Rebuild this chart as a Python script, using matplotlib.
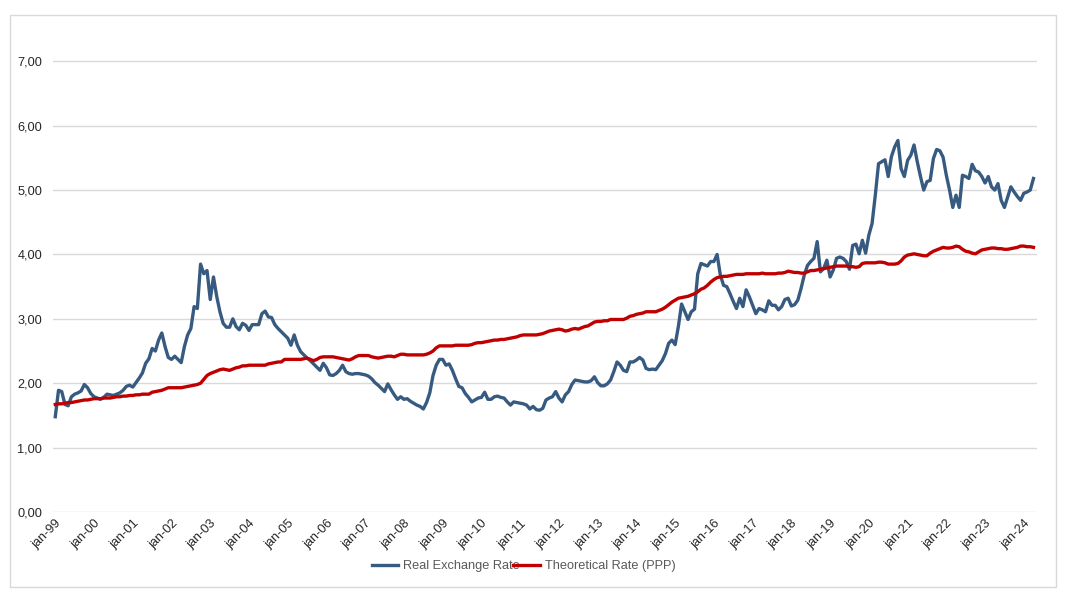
import numpy as np
import matplotlib.pyplot as plt
import matplotlib.transforms as mtransforms
from matplotlib.patches import Rectangle
from matplotlib.ticker import FuncFormatter

plt.rcParams['font.family'] = ['Liberation Sans', 'DejaVu Sans']

# monthly values, jan-99 .. apr-24
real_rate = [
    1.48, 1.89, 1.87, 1.67, 1.65, 1.79, 1.83, 1.85, 1.88, 1.98, 1.93, 1.84,  # 1999
    1.79, 1.77, 1.75, 1.78, 1.83, 1.82, 1.81, 1.83, 1.85, 1.89, 1.95, 1.97,  # 2000
    1.94, 2.01, 2.08, 2.16, 2.31, 2.38, 2.54, 2.50, 2.67, 2.78, 2.57, 2.40,  # 2001
    2.37, 2.42, 2.37, 2.32, 2.57, 2.75, 2.85, 3.19, 3.16, 3.85, 3.70, 3.75,  # 2002
    3.30, 3.65, 3.35, 3.11, 2.93, 2.87, 2.87, 3.00, 2.88, 2.83, 2.93, 2.90,  # 2003
    2.82, 2.91, 2.91, 2.91, 3.08, 3.12, 3.03, 3.02, 2.91, 2.85, 2.80, 2.75,  # 2004
    2.70, 2.59, 2.75, 2.59, 2.49, 2.44, 2.39, 2.35, 2.30, 2.25, 2.20, 2.31,  # 2005
    2.24, 2.13, 2.12, 2.15, 2.20, 2.28, 2.18, 2.15, 2.14, 2.15, 2.15, 2.14,  # 2006
    2.13, 2.11, 2.07, 2.01, 1.97, 1.92, 1.87, 1.99, 1.90, 1.82, 1.75, 1.79,  # 2007
    1.75, 1.76, 1.72, 1.69, 1.66, 1.64, 1.60, 1.70, 1.85, 2.12, 2.28, 2.37,  # 2008
    2.37, 2.28, 2.30, 2.20, 2.07, 1.95, 1.93, 1.84, 1.78, 1.71, 1.74, 1.77,  # 2009
    1.78, 1.86, 1.75, 1.75, 1.79, 1.80, 1.78, 1.77, 1.71, 1.66, 1.71, 1.70,  # 2010
    1.69, 1.68, 1.66, 1.60, 1.64, 1.59, 1.58, 1.61, 1.74, 1.77, 1.79, 1.87,  # 2011
    1.77, 1.71, 1.82, 1.87, 1.98, 2.05, 2.04, 2.03, 2.02, 2.02, 2.04, 2.10,  # 2012
    2.01, 1.96, 1.96, 1.99, 2.05, 2.18, 2.33, 2.28, 2.20, 2.18, 2.33, 2.33,  # 2013
    2.36, 2.40, 2.36, 2.23, 2.21, 2.22, 2.21, 2.28, 2.35, 2.46, 2.62, 2.67,  # 2014
    2.60, 2.88, 3.23, 3.11, 2.99, 3.11, 3.15, 3.70, 3.86, 3.84, 3.82, 3.89,  # 2015
    3.89, 4.00, 3.68, 3.52, 3.50, 3.39, 3.27, 3.16, 3.32, 3.19, 3.45, 3.34,  # 2016
    3.21, 3.08, 3.16, 3.14, 3.11, 3.28, 3.21, 3.21, 3.14, 3.19, 3.30, 3.32,  # 2017
    3.20, 3.22, 3.29, 3.47, 3.68, 3.83, 3.89, 3.94, 4.20, 3.73, 3.78, 3.91,  # 2018
    3.65, 3.76, 3.94, 3.96, 3.94, 3.89, 3.77, 4.14, 4.16, 4.01, 4.22, 4.02,  # 2019
    4.30, 4.48, 4.92, 5.41, 5.44, 5.47, 5.21, 5.52, 5.67, 5.77, 5.33, 5.21,  # 2020
    5.46, 5.54, 5.70, 5.44, 5.21, 5.00, 5.13, 5.15, 5.49, 5.63, 5.61, 5.51,  # 2021
    5.23, 5.00, 4.73, 4.92, 4.73, 5.23, 5.21, 5.18, 5.40, 5.30, 5.28, 5.21,  # 2022
    5.11, 5.21, 5.05, 5.00, 5.10, 4.84, 4.73, 4.89, 5.05, 4.97, 4.90, 4.84,  # 2023
    4.95, 4.97, 5.00, 5.18,                                                  # 2024
]

ppp_rate = [
    1.67, 1.68, 1.68, 1.69, 1.70, 1.70, 1.71, 1.72, 1.73, 1.74, 1.74, 1.75,
    1.76, 1.76, 1.76, 1.77, 1.77, 1.77, 1.78, 1.79, 1.79, 1.80, 1.80, 1.81,
    1.81, 1.82, 1.82, 1.83, 1.83, 1.83, 1.86, 1.87, 1.88, 1.89, 1.91, 1.93,
    1.93, 1.93, 1.93, 1.93, 1.94, 1.95, 1.96, 1.97, 1.98, 2.00, 2.06, 2.12,
    2.15, 2.17, 2.19, 2.21, 2.22, 2.21, 2.20, 2.22, 2.24, 2.25, 2.27, 2.27,
    2.28, 2.28, 2.28, 2.28, 2.28, 2.28, 2.30, 2.31, 2.32, 2.33, 2.33, 2.37,
    2.37, 2.37, 2.37, 2.37, 2.37, 2.38, 2.39, 2.37, 2.35, 2.37, 2.40, 2.41,
    2.41, 2.41, 2.41, 2.40, 2.39, 2.38, 2.37, 2.36, 2.38, 2.41, 2.43, 2.43,
    2.43, 2.43, 2.41, 2.40, 2.39, 2.40, 2.41, 2.42, 2.42, 2.41, 2.43, 2.45,
    2.45, 2.44, 2.44, 2.44, 2.44, 2.44, 2.44, 2.45, 2.47, 2.50, 2.55, 2.58,
    2.58, 2.58, 2.58, 2.58, 2.59, 2.59, 2.59, 2.59, 2.59, 2.60, 2.62, 2.63,
    2.63, 2.64, 2.65, 2.66, 2.67, 2.67, 2.68, 2.68, 2.69, 2.70, 2.71, 2.72,
    2.74, 2.75, 2.75, 2.75, 2.75, 2.75, 2.76, 2.77, 2.79, 2.81, 2.82, 2.83,
    2.84, 2.83, 2.81, 2.82, 2.84, 2.85, 2.84, 2.86, 2.88, 2.89, 2.92, 2.95,
    2.96, 2.96, 2.97, 2.97, 2.99, 2.99, 2.99, 2.99, 2.99, 3.01, 3.04, 3.05,
    3.07, 3.08, 3.09, 3.11, 3.11, 3.11, 3.11, 3.13, 3.15, 3.18, 3.22, 3.26,
    3.29, 3.32, 3.33, 3.34, 3.35, 3.37, 3.39, 3.42, 3.46, 3.48, 3.52, 3.57,
    3.61, 3.64, 3.65, 3.66, 3.66, 3.67, 3.68, 3.69, 3.69, 3.69, 3.70, 3.70,
    3.70, 3.70, 3.70, 3.71, 3.70, 3.70, 3.70, 3.70, 3.71, 3.71, 3.72, 3.74,
    3.73, 3.72, 3.72, 3.71, 3.71, 3.73, 3.75, 3.75, 3.76, 3.77, 3.78, 3.79,
    3.80, 3.81, 3.82, 3.82, 3.82, 3.82, 3.81, 3.81, 3.80, 3.81, 3.86, 3.87,
    3.87, 3.87, 3.87, 3.88, 3.88, 3.87, 3.85, 3.85, 3.85, 3.86, 3.90, 3.96,
    3.99, 4.00, 4.01, 4.00, 3.99, 3.98, 3.98, 4.02, 4.05, 4.07, 4.09, 4.11,
    4.10, 4.10, 4.11, 4.13, 4.12, 4.08, 4.05, 4.04, 4.02, 4.01, 4.04, 4.07,
    4.08, 4.09, 4.10, 4.10, 4.09, 4.09, 4.08, 4.08, 4.09, 4.10, 4.11, 4.13,
    4.13, 4.12, 4.12, 4.11,
]

year_labels = ['jan-%02d' % (y % 100) for y in range(1999, 2025)]
series_names = ['Real Exchange Rate', 'Theoretical Rate (PPP)']

BLUE = '#375A80'
RED = '#C00000'
GRID = '#D9D9D9'

fig = plt.figure(figsize=(10.69, 6.02), dpi=100)
ax = fig.add_axes([0.0499, 0.1495, 0.9199, 0.784])

months = np.arange(len(real_rate))
ax.plot(months, real_rate, color=BLUE, lw=2.4, label=series_names[0], solid_joinstyle='round')
ax.plot(months, ppp_rate, color=RED, lw=2.4, label=series_names[1], solid_joinstyle='round')

ax.set_xlim(-0.6, 304)
ax.set_ylim(0, 7.33)
ax.set_yticks(np.arange(0, 8, 1))
ax.yaxis.set_major_formatter(FuncFormatter(lambda v, p: f"{v:.2f}".replace('.', ',')))
ax.grid(axis='y', color=GRID, lw=1)
ax.set_axisbelow(True)
for s in ax.spines.values():
    s.set_visible(False)

ax.set_xticks(np.arange(0, len(real_rate), 12))
ax.set_xticklabels(year_labels, rotation=45, ha='right', va='top', rotation_mode='anchor')
offset = mtransforms.ScaledTranslation(5 / 100, 0, fig.dpi_scale_trans)
for lbl in ax.get_xticklabels():
    lbl.set_transform(lbl.get_transform() + offset)
ax.tick_params(axis='both', length=0, labelsize=9.2, colors='#262626')
ax.tick_params(axis='y', pad=8)
ax.tick_params(axis='x', pad=4)

fig.legend(loc='center', bbox_to_anchor=(523.5 / 1069, 1 - 566 / 602), ncol=2, frameon=False,
           fontsize=9.2, handlelength=2.1, handletextpad=0.36, columnspacing=-0.5,
           labelcolor='#595959')

fig.patches.append(Rectangle((10 / 1069, 1 - 587 / 602), 1046 / 1069, 572 / 602,
                             transform=fig.transFigure, fill=False, edgecolor=GRID, lw=1))

fig.savefig('out.png', dpi=100)
